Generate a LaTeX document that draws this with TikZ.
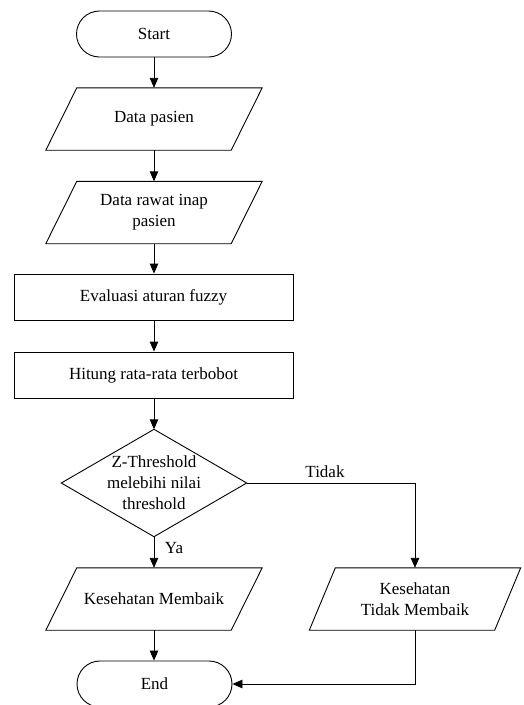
\documentclass[tikz,border=0pt]{standalone}
\usepackage{fontspec}
\setmainfont{Liberation Serif}
\usetikzlibrary{arrows.meta}
\begin{document}
\begin{tikzpicture}[x=1pt,y=-1pt,
  every node/.style={font=\fontsize{17}{21}\selectfont, inner sep=0pt},
  term/.style={draw, rounded corners=23pt, minimum width=155pt, minimum height=46pt, line width=0.9pt},
  io/.style={minimum width=185pt, minimum height=62pt, align=center},
  proc/.style={draw, minimum width=279pt, minimum height=46pt, line width=0.9pt},
  dec/.style={minimum width=185pt, minimum height=107pt, align=center},
  lbl/.style={font=\fontsize{17}{21}\selectfont},
  arr/.style={-{Triangle[length=10pt,width=8.5pt]}, line width=0.9pt}]
\useasboundingbox (0,0) rectangle (523,705);
\node[term] (start) at (154,34) {Start};
\node[io] (d1) at (154,119) {Data pasien};
\node[io] (d2) at (154,212.5) {Data rawat inap\\pasien};
\node[proc] (eval) at (153.5,297) {Evaluasi aturan fuzzy};
\node[proc] (hit) at (153.5,375) {Hitung rata-rata terbobot};
\node[dec] (q) at (154,483) {Z-Threshold\\melebihi nilai\\threshold};
\node[io] (ok) at (154,599) {Kesehatan Membaik};
\node[io] (nok) at (415,599) {Kesehatan\\Tidak Membaik};
\node[term] (end) at (154.5,684) {End};
\foreach \n/\s in {d1/15.5,d2/15.5,ok/15.5,nok/13}{
  \draw[line width=0.9pt] ([xshift=\s pt]\n.north west) -- ([xshift=\s pt]\n.north east)
    -- ([xshift=-\s pt]\n.south east) -- ([xshift=-\s pt]\n.south west) -- cycle;}
\draw[line width=0.9pt] (q.north) -- (q.east) -- (q.south) -- (q.west) -- cycle;
\draw[arr] (start) -- (d1);
\draw[arr] (d1) -- (d2);
\draw[arr] (d2) -- (eval.north -| d2.south);
\draw[arr] (eval.south -| d2.south) -- (hit.north -| d2.south);
\draw[arr] (hit.south -| d2.south) -- (q.north);
\draw[arr] (q.south) -- (ok.north);
\draw[arr] (ok.south) -- (end.north -| ok.south);
\draw[arr] (q.east) -| (nok.north);
\draw[arr] (nok.south) |- (end.east);
\node[lbl] (tidak) at (325,472) {Tidak};
\node[lbl] (ya) at (174,548) {Ya};
\end{tikzpicture}
\end{document}
